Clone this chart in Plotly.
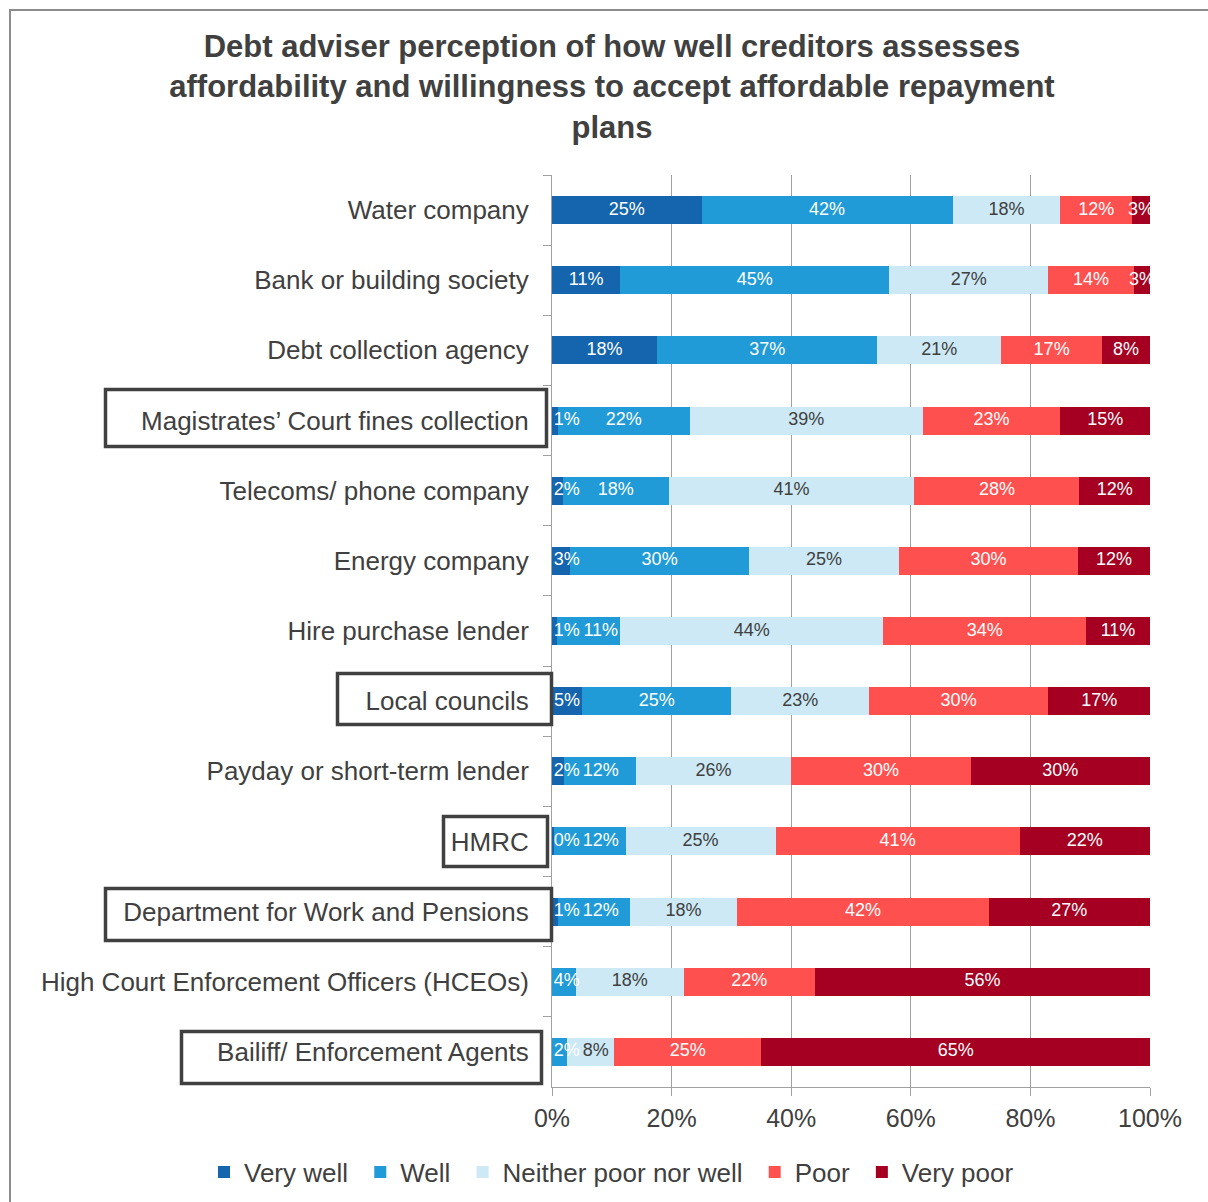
import plotly.graph_objects as go

categories = [
    "Water company",
    "Bank or building society",
    "Debt collection agency",
    "Magistrates\u2019 Court fines collection",
    "Telecoms/ phone company",
    "Energy company",
    "Hire purchase lender",
    "Local councils",
    "Payday or short-term lender",
    "HMRC",
    "Department for Work and Pensions",
    "High Court Enforcement Officers (HCEOs)",
    "Bailiff/ Enforcement Agents",
]

very_well = [25, 11.4, 17.6, 1, 1.8, 3, 0.8, 5, 2, 0.4, 1, 0, 0]
well = [42, 45, 36.8, 22, 17.7, 30, 10.6, 25, 12, 11.9, 12, 4, 2.5]
neither = [18, 26.6, 20.7, 39, 41.1, 25, 44, 23, 26, 25.1, 18, 18, 7.9]
poor = [12, 14.3, 16.9, 23, 27.6, 30, 33.9, 30, 30, 40.8, 42, 22, 24.6]
very_poor = [3, 2.7, 8, 15, 11.8, 12, 10.7, 17, 30, 21.8, 27, 56, 65]

x_tickvals = [0, 20, 40, 60, 80, 100]
x_ticktext = ["0%", "20%", "40%", "60%", "80%", "100%"]

series_names = ["Very well", "Well", "Neither poor nor well", "Poor", "Very poor"]
series_values = [very_well, well, neither, poor, very_poor]
series_colors = ["#1465AE", "#219BD8", "#CCE9F5", "#FF5050", "#A50021"]
label_colors = ["white", "white", "#404040", "white", "white"]

boxed = {
    "Magistrates\u2019 Court fines collection": (104, 548, 388, 448),
    "Local councils": (336, 553, 672, 726),
    "HMRC": (442, 549, 815, 868),
    "Department for Work and Pensions": (104, 553, 887, 942),
    "Bailiff/ Enforcement Agents": (180, 543, 1030, 1085),
}

W, H = 1208, 1202
L, R, T, B = 552, 1150, 175, 1087
PX_PER_UNIT = (R - L) / 100.0
LABEL_SIZE = 18

FONT = "Liberation Sans, Arial, sans-serif"

fig = go.Figure()
for name, vals, col in zip(series_names, series_values, series_colors):
    fig.add_trace(go.Bar(
        y=categories, x=vals, name=name + "\u00a0", orientation="h",
        marker=dict(color=col, line=dict(width=0)),
        hoverinfo="x+y",
    ))


def label_width_units(txt):
    w = 0.0
    for ch in txt:
        w += 0.889 if ch == "%" else 0.556
    return w * LABEL_SIZE / PX_PER_UNIT


# data labels, drawn above all bars, nudged right when they would collide
n = len(categories)
starts = [0.0] * n
prev_right = [0.3 - 0.5] * n
label_x = [[None] * n for _ in series_values]
label_t = [[""] * n for _ in series_values]
for si, vals in enumerate(series_values):
    for i, v in enumerate(vals):
        s = starts[i]
        starts[i] = s + v
        if v == 0:
            continue
        txt = f"{v:.0f}%"
        w = label_width_units(txt)
        c = s + v / 2
        if c - w / 2 < prev_right[i] + 0.5:
            c = prev_right[i] + 0.5 + w / 2
        prev_right[i] = c + w / 2
        label_x[si][i] = c
        label_t[si][i] = txt

for si, lc in enumerate(label_colors):
    fig.add_trace(go.Scatter(
        y=categories, x=label_x[si], text=label_t[si], mode="text",
        textposition="middle center",
        textfont=dict(color=lc, size=LABEL_SIZE, family=FONT),
        showlegend=False, hoverinfo="skip", cliponaxis=True,
    ))


def px_x(px):
    return (px - L) / (R - L)


def px_y(py):
    return (B - py) / (B - T)


shapes = []
for cat, (x0, x1, y0, y1) in boxed.items():
    shapes.append(dict(
        type="rect", xref="paper", yref="paper",
        x0=px_x(x0 + 1.5), x1=px_x(x1 - 1.5), y0=px_y(y1 - 1.5), y1=px_y(y0 + 1.5),
        line=dict(color="#404040", width=3.5), fillcolor="rgba(0,0,0,0)", layer="above",
    ))
# outer chart frame
shapes.append(dict(
    type="rect", xref="paper", yref="paper",
    x0=px_x(10), x1=px_x(1230), y0=px_y(1230), y1=px_y(10),
    line=dict(color="#8c8c8c", width=2), fillcolor="rgba(0,0,0,0)", layer="below",
))

fig.update_layout(
    width=W, height=H,
    barmode="stack", bargap=0.6,
    paper_bgcolor="white", plot_bgcolor="white",
    margin=dict(l=L, r=W - R, t=T, b=H - B, autoexpand=False),
    font=dict(family=FONT, color="#404040", size=26),
    title=dict(
        text="<b>Debt adviser perception of how well creditors assesses<br>"
             "affordability and willingness to accept affordable repayment<br>plans</b>",
        x=612 / W, xanchor="center", xref="container",
        y=1 - 57 / H, yanchor="middle", yref="container",
        font=dict(size=31, color="#404040", family=FONT),
    ),
    xaxis=dict(
        range=[0, 100], tickvals=x_tickvals, ticktext=x_ticktext,
        showgrid=True, gridcolor="#a0a0a0", gridwidth=1,
        showline=True, linecolor="#a0a0a0", linewidth=1,
        ticks="outside", ticklen=8, tickcolor="#a0a0a0",
        tickfont=dict(size=25, color="#404040"), zeroline=False,
        ticklabelstandoff=1, fixedrange=True,
    ),
    yaxis=dict(
        range=[len(categories) - 0.5, -0.5], autorange=False,
        showline=True, linecolor="#a0a0a0", linewidth=1,
        ticks="outside", ticklen=8, tickcolor="#a0a0a0", tickson="boundaries",
        tickfont=dict(size=26, color="#404040"), ticklabelstandoff=17,
        showgrid=False, fixedrange=True,
    ),
    legend=dict(
        orientation="h", xref="paper", yref="paper",
        x=px_x(204), xanchor="left", y=px_y(1172), yanchor="middle",
        font=dict(size=26, color="#404040"), traceorder="normal",
        itemwidth=30, tracegroupgap=0,
    ),
    shapes=shapes,
    showlegend=True,
)

fig.write_html("out.html")
